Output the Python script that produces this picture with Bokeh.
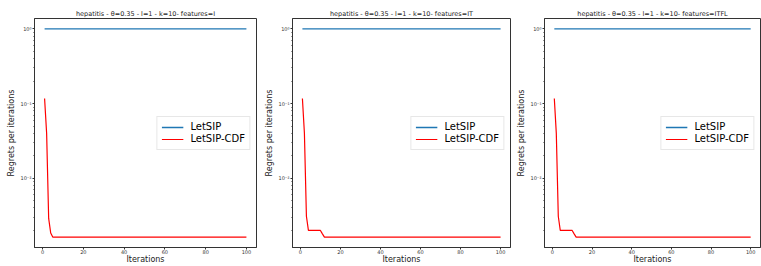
from bokeh.plotting import figure
from bokeh.layouts import row
from bokeh.models import FixedTicker, CustomJSTickFormatter, Range1d, Legend, LegendItem
from bokeh.embed import file_html
from bokeh.resources import INLINE
import math

# ---- data ----
iterations = list(range(1, 101))
letsip = [1.0] * 100
cdf_I = [0.117, 0.040, 0.0029, 0.00185] + [0.00163] * 96
cdf_IT = [0.117, 0.040, 0.0031, 0.0020, 0.0020, 0.0020, 0.0020, 0.0020, 0.0020, 0.0020, 0.0018] + [0.00163] * 89
cdf_ITFL = [0.117, 0.040, 0.0031, 0.0020, 0.0020, 0.0020, 0.0020, 0.0020, 0.0020, 0.0020, 0.0018] + [0.00163] * 89
titles = [
    "hepatitis - \u03b8=0.35 - l=1 - k=10- features=I",
    "hepatitis - \u03b8=0.35 - l=1 - k=10- features=IT",
    "hepatitis - \u03b8=0.35 - l=1 - k=10- features=ITFL",
]
x_ticks = [0, 20, 40, 60, 80, 100]
y_ticks = [0.01, 0.1, 1.0]
series_names = ["LetSIP", "LetSIP-CDF"]

FONT = "DejaVu Sans"
panels = [(titles[0], cdf_I), (titles[1], cdf_IT), (titles[2], cdf_ITFL)]
# layout: (figure width, min_border_left, min_border_right)
geo = [(262, 34, 6), (252, 26, 4), (247, 26, 1)]

minor = []
for d in (-3, -2, -1):
    for m in range(2, 10):
        minor.append(m * 10 ** d)

fmt = CustomJSTickFormatter(code="""
const e = Math.round(Math.log10(tick));
const sup = {'-':'\u207b','0':'\u2070','1':'\u00b9','2':'\u00b2','3':'\u00b3'};
return '10' + String(e).split('').map(c => sup[c]).join('');
""")

figs = []
for i, (ttl, cdf) in enumerate(panels):
    w, bl, br = geo[i]
    allv = letsip + cdf
    lo, hi = math.log10(min(allv)), math.log10(max(allv))
    pad = 0.05 * (hi - lo)
    xlo, xhi = min(iterations), max(iterations)
    xpad = 0.05 * (xhi - xlo)
    p = figure(width=w, height=266, y_axis_type="log",
               output_backend="svg", toolbar_location=None,
               x_range=Range1d(xlo - xpad, xhi + xpad),
               y_range=Range1d(10 ** (lo - pad), 10 ** (hi + pad)),
               min_border_left=bl, min_border_right=br,
               min_border_top=18, min_border_bottom=19)
    p.title.text = ttl
    p.title.align = "center"
    p.title.text_font = FONT
    p.title.text_font_size = "6.5px"
    p.title.text_font_style = "normal"
    p.title.text_color = "#222222"
    p.title.standoff = 1
    p.title.offset = 0

    p.xgrid.visible = False
    p.ygrid.visible = False
    p.outline_line_color = "#333333"
    p.outline_line_width = 1
    p.background_fill_color = "white"
    p.border_fill_color = "white"

    r1 = p.line(iterations, letsip, line_color="#1f77b4", line_width=1.4)
    r2 = p.line(iterations, cdf, line_color="red", line_width=1.2)

    xa = p.xaxis[0]
    xa.ticker = FixedTicker(ticks=x_ticks)
    xa.axis_label = "Iterations"
    ya = p.yaxis[0]
    ya.ticker = FixedTicker(ticks=y_ticks, minor_ticks=minor)
    ya.formatter = fmt
    ya.axis_label = "Regrets per iterations"
    for ax in (xa, ya):
        ax.axis_line_color = "#333333"
        ax.major_tick_line_color = "#333333"
        ax.minor_tick_line_color = "#333333"
        ax.major_tick_out = 2
        ax.major_tick_in = 0
        ax.minor_tick_out = 1
        ax.minor_tick_in = 0
        ax.major_label_text_font = FONT
        ax.major_label_text_font_size = "5px"
        ax.major_label_text_color = "#333333"
        ax.major_label_standoff = 1
        ax.axis_label_text_font = FONT
        ax.axis_label_text_font_size = "8px"
        ax.axis_label_text_font_style = "normal"
        ax.axis_label_text_color = "#222222"
        ax.axis_label_standoff = 1
    xa.minor_tick_line_color = None
    xa.major_label_standoff = 0
    xa.axis_label_standoff = -2

    leg = Legend(items=[LegendItem(label=series_names[0], renderers=[r1]),
                        LegendItem(label=series_names[1], renderers=[r2])],
                 location="center_right")
    leg.margin = 6
    leg.padding = 4
    leg.spacing = 0
    leg.label_text_font = FONT
    leg.label_text_font_size = "10px"
    leg.label_text_color = "black"
    leg.label_height = 12
    leg.glyph_height = 12
    leg.glyph_width = 22
    leg.label_standoff = 7
    leg.border_line_color = "#d0d0d0"
    leg.border_line_width = 1
    leg.background_fill_alpha = 0.9
    p.add_layout(leg)
    figs.append(p)

layout = row(*figs, spacing=0)
open("out.html", "w").write(file_html(layout, INLINE))
